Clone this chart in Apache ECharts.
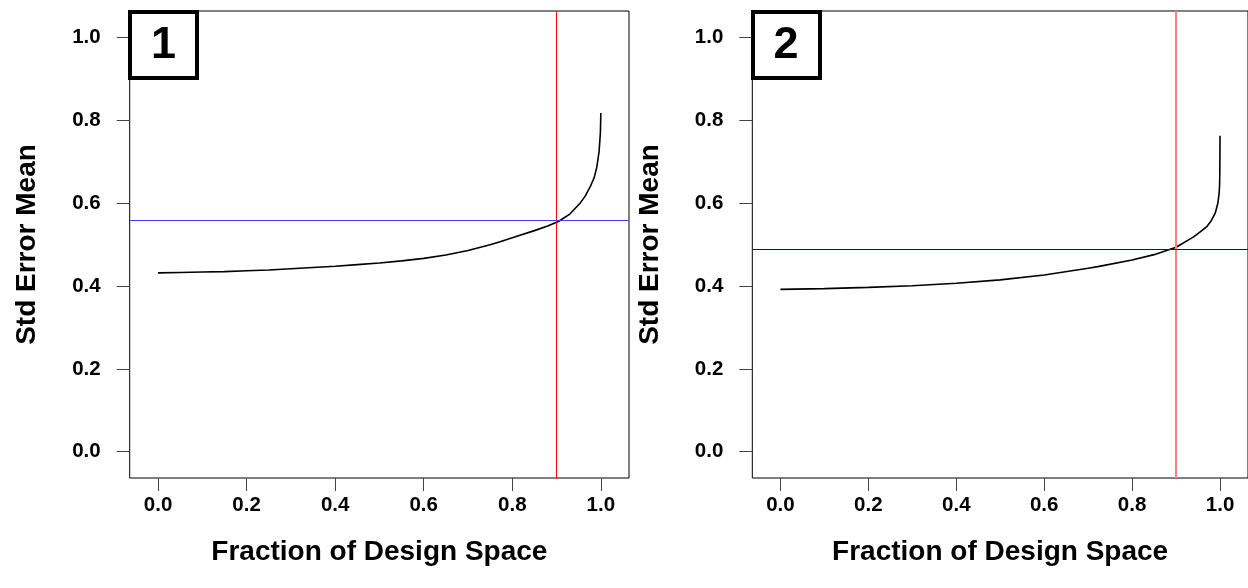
<!DOCTYPE html>
<html>
<head>
<meta charset="utf-8">
<script src="https://cdn.jsdelivr.net/npm/echarts@6/dist/echarts.min.js"></script>
<style>
  html, body { margin: 0; padding: 0; background: #fff; }
  #chart { width: 1248px; height: 588px; }
</style>
</head>
<body>
<div id="chart"></div>
<script>
// panel 1
var fracX1 = [0, 0.05, 0.1, 0.15, 0.2, 0.25, 0.3, 0.35, 0.4, 0.45, 0.5, 0.55, 0.6, 0.65, 0.7, 0.75, 0.7725, 0.8, 0.85, 0.88, 0.904, 0.93, 0.953, 0.965, 0.976, 0.985, 0.991, 0.996, 0.999, 1.0]
var stdErr1 = [0.432, 0.433, 0.434, 0.435, 0.437, 0.439, 0.442, 0.445, 0.448, 0.452, 0.456, 0.461, 0.467, 0.475, 0.486, 0.5, 0.507, 0.517, 0.534, 0.545, 0.556, 0.574, 0.6, 0.618, 0.64, 0.662, 0.688, 0.725, 0.77, 0.818]
// panel 2
var fracX2 = [0, 0.1, 0.2, 0.3, 0.4, 0.5, 0.6, 0.7, 0.722, 0.8, 0.85, 0.9, 0.94, 0.96, 0.971, 0.98, 0.989, 0.995, 0.998, 0.999, 0.9995, 1.0]
var stdErr2 = [0.392, 0.394, 0.397, 0.401, 0.407, 0.415, 0.427, 0.443, 0.447, 0.463, 0.476, 0.494, 0.519, 0.535, 0.545, 0.558, 0.576, 0.6, 0.625, 0.645, 0.68, 0.763]

var cutX = [0.904, 0.9]      // red vertical lines
var cutY = [0.556, 0.494]    // horizontal lines
var tickVals = [0, 0.2, 0.4, 0.6, 0.8, 1.0]
var panelTags = ["1", "2"]
var xTitle = "Fraction of Design Space"
var yTitle = "Std Error Mean"

var FONT = "Liberation Sans, Arial, sans-serif"

var chartDom = echarts.init(document.getElementById("chart"))

function zip(xs, ys) {
  return xs.map(function (x, i) { return [x, ys[i]] })
}

function makeX(idx) {
  return {
    gridIndex: idx,
    type: "value",
    min: -0.064,
    max: 1.0636,
    name: xTitle,
    nameLocation: "middle",
    nameGap: 60,
    nameTextStyle: { fontFamily: FONT, fontWeight: "bold", fontSize: 28, color: "#000" },
    axisLine: { show: false, onZero: false },
    splitLine: { show: false },
    axisTick: { show: true, inside: false, length: 13, customValues: tickVals, lineStyle: { color: "#444", width: 1 } },
    axisLabel: {
      customValues: tickVals,
      margin: 17,
      fontFamily: FONT, fontWeight: "bold", fontSize: 20.5, color: "#000",
      formatter: function (v) { return v.toFixed(1) }
    }
  }
}

function makeY(idx) {
  return {
    gridIndex: idx,
    type: "value",
    min: -0.0635,
    max: 1.0645,
    name: yTitle,
    nameLocation: "middle",
    nameGap: 88,
    nameTextStyle: { fontFamily: FONT, fontWeight: "bold", fontSize: 28, color: "#000" },
    axisLine: { show: false, onZero: false },
    splitLine: { show: false },
    axisTick: { show: true, inside: false, length: 13, customValues: tickVals, lineStyle: { color: "#444", width: 1 } },
    axisLabel: {
      customValues: tickVals,
      margin: 29,
      fontFamily: FONT, fontWeight: "bold", fontSize: 20.5, color: "#000",
      formatter: function (v) { return v.toFixed(1) }
    }
  }
}

function makeSeries(idx, data, redColor, redWidth, blueColor) {
  return {
    type: "line",
    xAxisIndex: idx,
    yAxisIndex: idx,
    data: data,
    showSymbol: false,
    smooth: false,
    lineStyle: { color: "#000", width: 1.6 },
    silent: true,
    markLine: {
      silent: true,
      symbol: "none",
      label: { show: false },
      animation: false,
      data: [
        { xAxis: cutX[idx], lineStyle: { color: redColor, width: redWidth, type: "solid" } },
        { yAxis: cutY[idx], lineStyle: { color: blueColor, width: 1, type: "solid" } }
      ]
    }
  }
}

function tagBox(x, cx, text) {
  return {
    type: "group",
    children: [
      {
        type: "rect",
        shape: { x: x, y: 12, width: 67, height: 66 },
        style: { fill: "#fff", stroke: "#000", lineWidth: 4 },
        z: 100
      },
      {
        type: "text",
        x: cx,
        y: 46,
        style: {
          text: text,
          fontFamily: FONT, fontWeight: "bold", fontSize: 45, fill: "#000",
          align: "center", verticalAlign: "middle"
        },
        z: 101
      }
    ]
  }
}

var option = {
  animation: false,
  backgroundColor: "#fff",
  grid: [
    { left: 129.7, top: 11, width: 499.3, height: 467, show: true, borderColor: "#000", borderWidth: 1, backgroundColor: "transparent" },
    { left: 752.3, top: 11, width: 499, height: 467, show: true, borderColor: "#000", borderWidth: 1, backgroundColor: "transparent" }
  ],
  xAxis: [makeX(0), makeX(1)],
  yAxis: [makeY(0), makeY(1)],
  series: [
    makeSeries(0, zip(fracX1, stdErr1), "#ff0000", 1, "#3d3dff"),
    makeSeries(1, zip(fracX2, stdErr2), "#ff7f7f", 2, "#0000dd")
  ],
  graphic: [
    tagBox(130, 163.5, panelTags[0]),
    tagBox(753, 786, panelTags[1])
  ]
}

chartDom.setOption(option, true)
window.addEventListener("resize", function () {
  chartDom.resize()
})
</script>
</body>
</html>
